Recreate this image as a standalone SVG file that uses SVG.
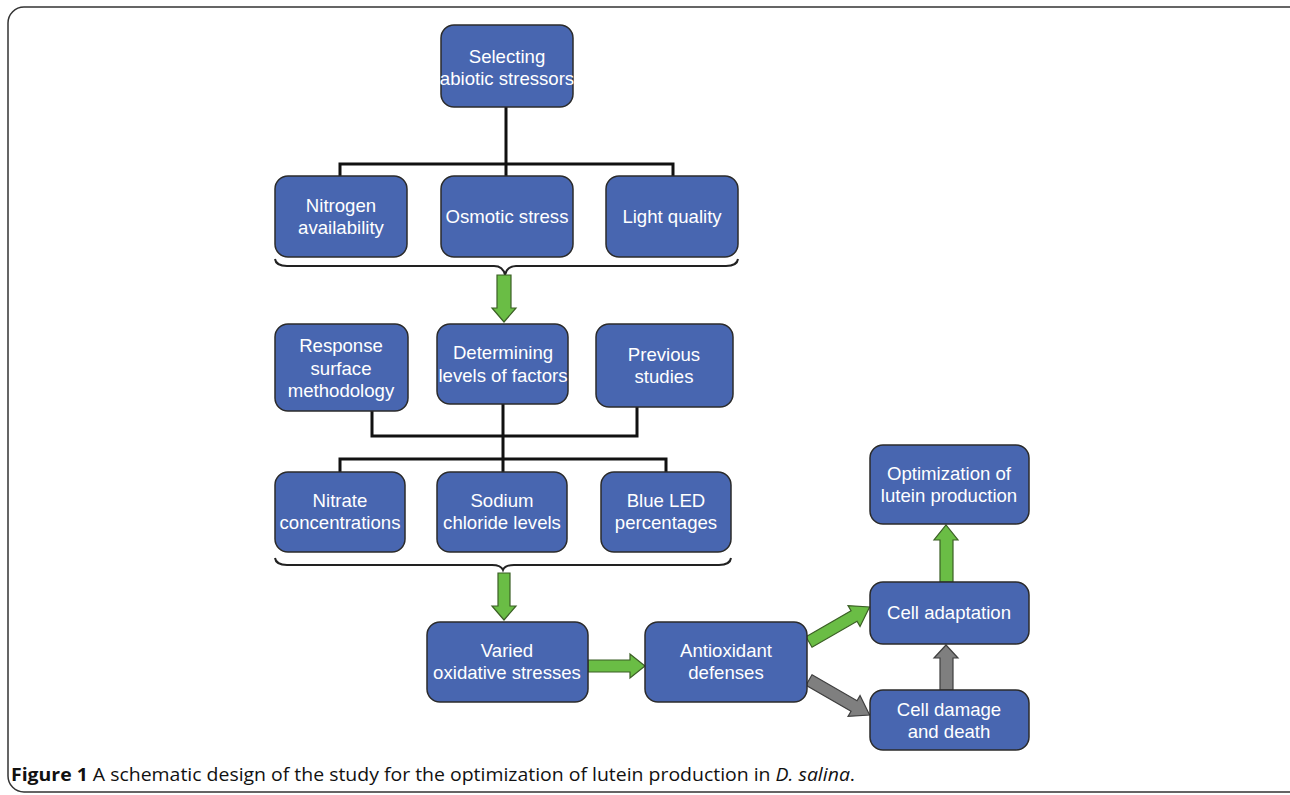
<svg xmlns="http://www.w3.org/2000/svg" width="1290" height="795" viewBox="0 0 1290 795">
<style>
.box{fill:#4866b0;stroke:#2b2b2b;stroke-width:1.5}
.t{fill:#ffffff;font-family:"Liberation Sans",Arial,sans-serif;font-size:18.6px;text-anchor:middle}
.ln{fill:none;stroke:#111;stroke-width:3}
.br{fill:none;stroke:#222;stroke-width:2}
.ga{fill:#6abd45;stroke:#3b5f25;stroke-width:1.2}
.gr{fill:#7f7f7f;stroke:#3f3f3f;stroke-width:1.2}
.cap{font-family:"Open Sans","Liberation Sans",sans-serif;font-size:18.5px;fill:#111}
</style>
<defs>
<path id="arr" d="M0,-6 L52,-6 L52,-12 L70,0 L52,12 L52,6 L0,6 Z"/>
</defs>
<rect width="1290" height="795" fill="#ffffff"/>
<rect x="8" y="7" width="1296" height="785" rx="16" fill="none" stroke="#333" stroke-width="1.5"/>

<g id="connectors">
<path class="ln" d="M506,107 V164 M340,176 V164 H673 V176 M506,164 V176"/>
<path class="br" d="M275,259 Q276,266 287,266 H494 Q503,266 505,275 Q507,266 516,266 H726 Q737,266 738,259"/>
<path class="ga" d="M497,275 H511 V308 H516 L504,322 L492,308 H497 Z"/>
<path class="ln" d="M372,411 V436 H637 V407 M503,404 V472 M340,472 V459 H666 V472"/>
<path class="br" d="M275,558 Q276,565 287,565 H492 Q501,565 503,570 Q505,565 514,565 H719 Q730,565 731,558"/>
<path class="ga" d="M498,573 H510 V606 H516 L504,620 L492,606 H498 Z"/>
<path class="ga" d="M588,660 H630 V654 L645,666 L630,678 V672 H588 Z"/>
<use href="#arr" class="ga" transform="translate(809,642) rotate(-30)"/>
<use href="#arr" class="gr" transform="translate(809,680) rotate(30)"/>
<path class="ga" d="M940,582 V540 H934 L946,525 L958,540 H953 V582 Z"/>
<path class="gr" d="M940,690 V658 H934 L946,645 L958,658 H953 V690 Z"/>
</g>

<g id="n-selecting"><rect class="box" x="441" y="25" width="132" height="82" rx="13"/><text class="t" x="507" y="63">Selecting</text><text class="t" x="507" y="85">abiotic stressors</text></g>
<g id="n-nitrogen"><rect class="box" x="275" y="176" width="132" height="81" rx="13"/><text class="t" x="341" y="212">Nitrogen</text><text class="t" x="341" y="234">availability</text></g>
<g id="n-osmotic"><rect class="box" x="441" y="176" width="132" height="81" rx="13"/><text class="t" x="507" y="223">Osmotic stress</text></g>
<g id="n-light"><rect class="box" x="606" y="176" width="132" height="81" rx="13"/><text class="t" x="672" y="223">Light quality</text></g>

<g id="n-response"><rect class="box" x="275" y="324" width="133" height="87" rx="13"/><text class="t" x="341" y="352">Response</text><text class="t" x="341" y="375">surface</text><text class="t" x="341" y="397">methodology</text></g>
<g id="n-determining"><rect class="box" x="437" y="324" width="131" height="80" rx="13"/><text class="t" x="503" y="359">Determining</text><text class="t" x="503" y="382">levels of factors</text></g>
<g id="n-previous"><rect class="box" x="596" y="324" width="137" height="83" rx="13"/><text class="t" x="664" y="361">Previous</text><text class="t" x="664" y="383">studies</text></g>

<g id="n-nitrate"><rect class="box" x="275" y="472" width="130" height="80" rx="13"/><text class="t" x="340" y="507">Nitrate</text><text class="t" x="340" y="529">concentrations</text></g>
<g id="n-sodium"><rect class="box" x="437" y="472" width="130" height="80" rx="13"/><text class="t" x="502" y="507">Sodium</text><text class="t" x="502" y="529">chloride levels</text></g>
<g id="n-blue"><rect class="box" x="601" y="472" width="130" height="80" rx="13"/><text class="t" x="666" y="507">Blue LED</text><text class="t" x="666" y="529">percentages</text></g>

<g id="n-varied"><rect class="box" x="427" y="622" width="161" height="80" rx="13"/><text class="t" x="507" y="657">Varied</text><text class="t" x="507" y="679">oxidative stresses</text></g>
<g id="n-antioxidant"><rect class="box" x="645" y="622" width="162" height="80" rx="13"/><text class="t" x="726" y="657">Antioxidant</text><text class="t" x="726" y="679">defenses</text></g>
<g id="n-optimization"><rect class="box" x="870" y="445" width="159" height="79" rx="13"/><text class="t" x="949" y="480">Optimization of</text><text class="t" x="949" y="502">lutein production</text></g>
<g id="n-adaptation"><rect class="box" x="870" y="582" width="159" height="62" rx="13"/><text class="t" x="949" y="619">Cell adaptation</text></g>
<g id="n-damage"><rect class="box" x="870" y="690" width="159" height="60" rx="13"/><text class="t" x="949" y="716">Cell damage</text><text class="t" x="949" y="738">and death</text></g>

<text class="cap" x="11" y="781" textLength="844" lengthAdjust="spacingAndGlyphs"><tspan font-weight="bold">Figure 1</tspan> A schematic design of the study for the optimization of lutein production in <tspan font-style="italic">D. salina</tspan>.</text>
</svg>
